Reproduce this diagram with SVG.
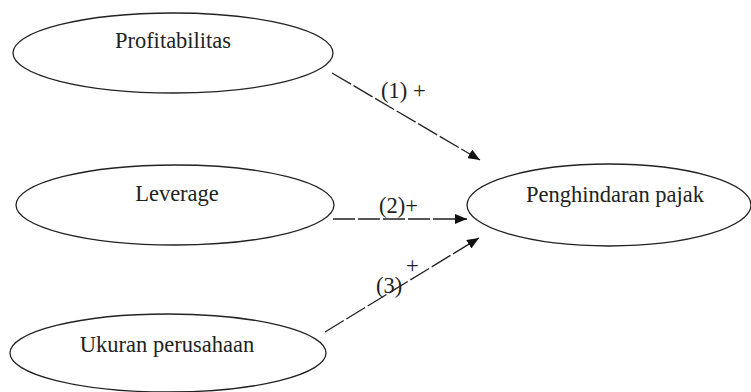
<svg xmlns="http://www.w3.org/2000/svg" width="751" height="392" viewBox="0 0 751 392">
<style>
.node ellipse{fill:#fff;stroke:#222;stroke-width:1.3}
text{font-family:"Liberation Serif","Times New Roman",serif;font-size:22.5px;fill:#222}
.c line{stroke:#222;stroke-width:1.3;stroke-dasharray:22,3}
</style>
<defs>
<marker id="ah" viewBox="0 0 12 10" refX="12" refY="5" markerWidth="12" markerHeight="10" markerUnits="userSpaceOnUse" orient="auto">
<path d="M0,0 L12,5 L0,10 Z" fill="#111"/>
</marker>
</defs>
<rect width="751" height="392" fill="#fff"/>
<g id="profitabilitas" class="node">
<ellipse cx="173" cy="53" rx="160" ry="40"/>
<text x="173" y="48" text-anchor="middle">Profitabilitas</text>
</g>
<g id="leverage" class="node">
<ellipse cx="175" cy="205" rx="159" ry="40"/>
<text x="177" y="201" text-anchor="middle">Leverage</text>
</g>
<g id="ukuran" class="node">
<ellipse cx="168" cy="353" rx="158" ry="39"/>
<text x="167" y="352" text-anchor="middle">Ukuran perusahaan</text>
</g>
<g id="penghindaran" class="node">
<ellipse cx="609" cy="205" rx="142" ry="41"/>
<text x="615" y="202" text-anchor="middle">Penghindaran pajak</text>
</g>
<g id="connectors" class="c">
<line x1="332" y1="73" x2="480" y2="160" marker-end="url(#ah)"/>
<line x1="333" y1="219" x2="467" y2="219" marker-end="url(#ah)"/>
<line x1="325" y1="332" x2="479" y2="238" marker-end="url(#ah)"/>
<text x="381" y="98">(1)</text>
<text x="413" y="98">+</text>
<text x="379" y="213">(2)+</text>
<text x="376" y="293">(3)</text>
<text x="406" y="273">+</text>
</g>
</svg>
